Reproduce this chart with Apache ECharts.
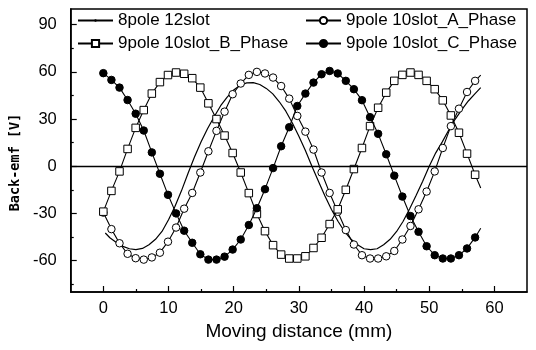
<!DOCTYPE html>
<html>
<head>
<meta charset="utf-8">
<script src="https://cdn.jsdelivr.net/npm/echarts@6/dist/echarts.min.js"></script>
<style>html,body{margin:0;padding:0;background:#fff}#c{width:536px;height:350px}</style>
</head>
<body>
<div id="c"></div>
<script>
// ---- data ----
const seriesNames = ['8pole 12slot', '9pole 10slot_A_Phase', '9pole 10slot_B_Phase', '9pole 10slot_C_Phase'];

// 8pole 12slot (plain line)
const p8x = [0.3,1,2,3,4,5,6,7,8,9,10,11,12,13,14,15,16,17,18,19,20,21,22,23,24,25,26,27,28,29,30,31,32,33,34,35,36,37,38,39,40,41,42,43,44,45,46,47,48,49,50,51,52,53,54,55,56,57,57.9];
const p8y = [-42.5,-45.5,-48.5,-51,-52.5,-53,-52.3,-50,-46.5,-41.5,-34,-25.5,-15.5,-4.5,6,15.5,24,31.5,38.5,44,48.5,51.5,53,53.2,52,49.5,46,41,35,27.5,19,10,0,-9.5,-19,-27.5,-35,-41.5,-46.5,-50,-52.5,-53,-52.5,-50,-46.5,-41.5,-35,-27,-18.5,-9.5,0,8.5,15.5,23,30,36,41.5,46,50];

// 9pole 10slot sample positions (mm)
const p9x = [0,1.24,2.48,3.72,4.96,6.2,7.44,8.68,9.92,11.16,12.4,13.64,14.88,16.12,17.36,18.6,19.84,21.08,22.32,23.56,24.8,26.04,27.28,28.52,29.76,31,32.24,33.48,34.72,35.96,37.2,38.44,39.68,40.92,42.16,43.4,44.64,45.88,47.12,48.36,49.6,50.84,52.08,53.32,54.56,55.8,57.04];
const phaseA = [-29.5,-40,-49,-55.7,-58.5,-59.4,-58,-55,-48,-39,-27,-17,-4,9.5,22.5,34.7,45.8,52.6,58.1,60,59,56.4,51,43,32,22,10.6,-4,-17,-29,-40.6,-49.8,-56.6,-58.7,-58.7,-57.3,-53.9,-46.6,-38,-27.4,-16.1,-3.3,11.6,25.5,36.6,47.2,54.3];
const phaseB = [-28.9,-15.7,-3.3,11,24.4,35.7,46.2,53.5,58,59.6,58.8,56,50,40,30,19.5,8.4,-4,-17.1,-30.4,-41.3,-50.2,-56.2,-58.7,-58.7,-57.3,-52,-45.5,-36.8,-27.4,-15,-1.8,11.6,25.5,37.2,46.8,54.3,58.1,59.6,58.1,54.3,49,41.9,32.3,21.3,8,-5.4];
const phaseC = [59.2,54.9,50,42.1,33.4,22.7,8.8,-4.8,-18.2,-30,-41,-48.7,-56,-59.4,-59.4,-57.5,-53,-46.6,-37.4,-26.7,-14.6,-1.2,12.7,24.8,38.3,46.2,53.2,58.5,60.6,59,54.3,49,42,31.2,20.6,7.6,-6,-19.3,-31.7,-41.7,-50.9,-56.6,-58.7,-58.7,-56.6,-52.3,-45.3];
// line continues slightly past the last marker
const tailX = 57.9;
const tailA = 57.9, tailB = -13.9, tailC = -39.5;

// axis ticks
const xMajor = [0,10,20,30,40,50,60];
const xMinor = [5,15,25,35,45,55];
const yMajor = [-60,-30,0,30,60,90];
const yMinor = [-75,-45,-15,15,45,75];

// ---- build ----
const FONT = 'Liberation Sans, Arial, sans-serif';
function pts(xs, ys, tx, ty) {
  const d = xs.map((x, i) => [x, ys[i]]);
  if (tx !== undefined) d.push({ value: [tx, ty], symbol: 'none' });
  return d;
}
const black = '#000';
function legendAt(name, left, top, ih) {
  return {
    data: [name], left: left, top: top, orient: 'horizontal', padding: 0,
    itemWidth: 35, itemHeight: ih, selectedMode: false,
    textStyle: { color: black, fontSize: 17, fontFamily: FONT }
  };
}
const chart = echarts.init(document.getElementById('c'), null, { renderer: 'canvas' });
chart.setOption({
  animation: false,
  backgroundColor: '#fff',
  grid: { left: 68, right: 9, top: 9, bottom: 58, show: true, borderColor: black, borderWidth: 1.5, backgroundColor: 'transparent' },
  legend: [
    legendAt(seriesNames[0], 77, 12, 3),
    legendAt(seriesNames[1], 305, 12, 9),
    legendAt(seriesNames[2], 77, 35, 9),
    legendAt(seriesNames[3], 305, 35, 9)
  ],
  xAxis: [
    {
      type: 'value', min: -5, max: 65, position: 'bottom',
      axisLine: { show: true, onZero: false, lineStyle: { color: black, width: 1.5 } },
      axisTick: { show: true, inside: true, length: 6, customValues: xMajor, lineStyle: { color: black, width: 1.2 } },
      axisLabel: { customValues: xMajor, color: black, fontSize: 16.5, fontFamily: FONT, margin: 8 },
      splitLine: { show: false },
      name: 'Moving distance (mm)', nameLocation: 'middle', nameGap: 29,
      nameTextStyle: { color: black, fontSize: 19, fontFamily: FONT }
    },
    {
      type: 'value', min: -5, max: 65, position: 'bottom',
      axisLine: { show: false, onZero: false },
      axisTick: { show: true, inside: true, length: 3, customValues: xMinor, lineStyle: { color: black, width: 1.2 } },
      axisLabel: { show: false },
      splitLine: { show: false }
    }
  ],
  yAxis: [
    {
      type: 'value', min: -80, max: 100, position: 'left',
      axisLine: { show: true, onZero: false, lineStyle: { color: black, width: 1.5 } },
      axisTick: { show: true, inside: true, length: 6, customValues: yMajor, lineStyle: { color: black, width: 1.2 } },
      axisLabel: { customValues: yMajor, color: black, fontSize: 16.5, fontFamily: FONT, margin: 14 },
      splitLine: { show: false },
      name: 'Back-emf [V]', nameLocation: 'middle', nameGap: 46, nameRotate: 90,
      nameTextStyle: { color: black, fontSize: 13.5, fontWeight: 'bold', fontFamily: 'DejaVu Sans Mono, monospace', padding: [0, 24, 0, 0] }
    },
    {
      type: 'value', min: -80, max: 100, position: 'left',
      axisLine: { show: false, onZero: false },
      axisTick: { show: true, inside: true, length: 3, customValues: yMinor, lineStyle: { color: black, width: 1.2 } },
      axisLabel: { show: false },
      splitLine: { show: false }
    }
  ],
  series: [
    {
      name: seriesNames[0], type: 'line', xAxisIndex: 0, yAxisIndex: 0,
      data: pts(p8x, p8y), showSymbol: false, symbol: 'circle', symbolSize: 2,
      lineStyle: { color: black, width: 1.2 }, itemStyle: { color: black },
      markLine: { silent: true, symbol: 'none', label: { show: false },
        lineStyle: { color: black, width: 1.4, type: 'solid' }, data: [{ yAxis: 0 }] },
      z: 2
    },
    {
      name: seriesNames[1], type: 'line', xAxisIndex: 0, yAxisIndex: 0,
      data: pts(p9x, phaseA, tailX, tailA), symbol: 'circle', symbolSize: 7.5, showAllSymbol: true,
      lineStyle: { color: black, width: 1.1 }, itemStyle: { color: '#fff', borderColor: black, borderWidth: 1 },
      z: 3
    },
    {
      name: seriesNames[2], type: 'line', xAxisIndex: 0, yAxisIndex: 0,
      data: pts(p9x, phaseB, tailX, tailB), symbol: 'rect', symbolSize: 7.5, showAllSymbol: true,
      lineStyle: { color: black, width: 1.1 }, itemStyle: { color: '#fff', borderColor: black, borderWidth: 1 },
      z: 4
    },
    {
      name: seriesNames[3], type: 'line', xAxisIndex: 0, yAxisIndex: 0,
      data: pts(p9x, phaseC, tailX, tailC), symbol: 'circle', symbolSize: 7.5, showAllSymbol: true,
      lineStyle: { color: black, width: 1.1 }, itemStyle: { color: black, borderColor: black, borderWidth: 1 },
      z: 5
    }
  ]
});
</script>
</body>
</html>
